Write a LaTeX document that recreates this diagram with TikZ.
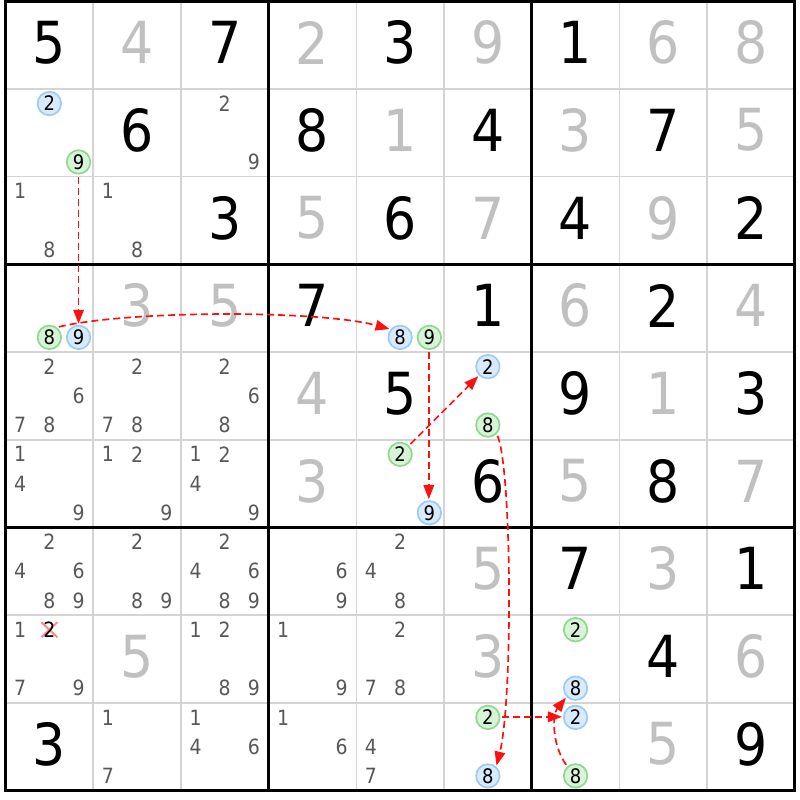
\documentclass[tikz,border=0pt]{standalone}
\usepackage{fontspec}
\setmainfont{DejaVu Sans}[FakeStretch=0.9]
\usetikzlibrary{arrows.meta}
\definecolor{solvedgray}{HTML}{C0C0C0}
\definecolor{candgray}{HTML}{585858}
\definecolor{gridgray}{HTML}{D4D4D4}
\definecolor{blueline}{HTML}{9CCBF5}
\definecolor{bluefill}{HTML}{D8EAFC}
\definecolor{greenline}{HTML}{8ED98E}
\definecolor{greenfill}{HTML}{D8F4D8}
\definecolor{linkred}{HTML}{FF1010}
\definecolor{xpink}{HTML}{FF8A8A}
\def\gx{5.5}
\def\gy{1.2}
\def\gs{87.7}
\newcommand\givn[4]{%
  \pgfmathsetmacro\ppx{\gx+(#3-0.5)*\gs}%
  \pgfmathsetmacro\ppy{\gy+(#2-0.5)*\gs-2.5}%
  \node[#1] (d#2#3) at (\ppx,\ppy) {#4};}
\newcommand\cnd[4]{%
  \pgfmathsetmacro\ppx{\gx+(#3-1)*\gs+(mod(#4-1,3)+0.5)*\gs/3}%
  \pgfmathsetmacro\ppy{\gy+(#2-1)*\gs+(floor((#4-1)/3)+0.5)*\gs/3}%
  \node[#1] (c#2#3#4) at (\ppx,\ppy) {#4};}
\newcommand\cnds[3]{\foreach \dd in {#3} {\cnd{cand}{#1}{#2}{\dd}}}
\begin{document}
\begin{tikzpicture}[x=1pt,y=-1pt,
  given/.style={inner sep=0pt,text=black,font=\fontsize{58}{58}\selectfont},
  solved/.style={inner sep=0pt,text=solvedgray,font=\fontsize{58}{58}\selectfont},
  cand/.style={inner sep=0pt,text=candgray,font=\fontsize{21}{21}\selectfont},
  candx/.style={inner sep=0pt,text=black,font=\fontsize{21}{21}\selectfont},
  cblue/.style={circle,inner sep=0pt,minimum size=23.5pt,line width=1.7pt,draw=blueline,fill=bluefill,text=black,font=\fontsize{20}{20}\selectfont},
  cgreen/.style={circle,inner sep=0pt,minimum size=23.5pt,line width=1.7pt,draw=greenline,fill=greenfill,text=black,font=\fontsize{20}{20}\selectfont},
  thingrid/.style={draw=gridgray,line width=1.6pt},
  thickgrid/.style={draw=black,line width=3pt},
  link/.style={draw=linkred,line width=1.7pt,dash pattern=on 7pt off 4pt,-{Triangle[length=14pt,width=10.5pt]},shorten <=2pt,shorten >=1pt},
  xmark/.style={draw=xpink,line width=2pt}]
\fill[white] (0,0) rectangle (800,800);
\useasboundingbox (0,0) rectangle (800,800);
% grid
\foreach \i in {1,2,4,5,7,8} {
  \draw[thingrid] ({\gx+\i*\gs},\gy) -- ({\gx+\i*\gs},{\gy+9*\gs});
  \draw[thingrid] (\gx,{\gy+\i*\gs}) -- ({\gx+9*\gs},{\gy+\i*\gs});
}
\foreach \i in {0,3,6,9} {
  \draw[thickgrid] ({\gx+\i*\gs},{\gy-1.5}) -- ({\gx+\i*\gs},{\gy+9*\gs+1.5});
  \draw[thickgrid] ({\gx-1.5},{\gy+\i*\gs}) -- ({\gx+9*\gs+1.5},{\gy+\i*\gs});
}
% row 1
\givn{given}{1}{1}{5}\givn{solved}{1}{2}{4}\givn{given}{1}{3}{7}
\givn{solved}{1}{4}{2}\givn{given}{1}{5}{3}\givn{solved}{1}{6}{9}
\givn{given}{1}{7}{1}\givn{solved}{1}{8}{6}\givn{solved}{1}{9}{8}
% row 2
\cnd{cblue}{2}{1}{2}\cnd{cgreen}{2}{1}{9}
\givn{given}{2}{2}{6}\cnds{2}{3}{2,9}
\givn{given}{2}{4}{8}\givn{solved}{2}{5}{1}\givn{given}{2}{6}{4}
\givn{solved}{2}{7}{3}\givn{given}{2}{8}{7}\givn{solved}{2}{9}{5}
% row 3
\cnds{3}{1}{1,8}\cnds{3}{2}{1,8}\givn{given}{3}{3}{3}
\givn{solved}{3}{4}{5}\givn{given}{3}{5}{6}\givn{solved}{3}{6}{7}
\givn{given}{3}{7}{4}\givn{solved}{3}{8}{9}\givn{given}{3}{9}{2}
% row 4
\cnd{cgreen}{4}{1}{8}\cnd{cblue}{4}{1}{9}
\givn{solved}{4}{2}{3}\givn{solved}{4}{3}{5}
\givn{given}{4}{4}{7}\cnd{cblue}{4}{5}{8}\cnd{cgreen}{4}{5}{9}\givn{given}{4}{6}{1}
\givn{solved}{4}{7}{6}\givn{given}{4}{8}{2}\givn{solved}{4}{9}{4}
% row 5
\cnds{5}{1}{2,6,7,8}\cnds{5}{2}{2,7,8}\cnds{5}{3}{2,6,8}
\givn{solved}{5}{4}{4}\givn{given}{5}{5}{5}\cnd{cblue}{5}{6}{2}\cnd{cgreen}{5}{6}{8}
\givn{given}{5}{7}{9}\givn{solved}{5}{8}{1}\givn{given}{5}{9}{3}
% row 6
\cnds{6}{1}{1,4,9}\cnds{6}{2}{1,2,9}\cnds{6}{3}{1,2,4,9}
\givn{solved}{6}{4}{3}\cnd{cgreen}{6}{5}{2}\cnd{cblue}{6}{5}{9}\givn{given}{6}{6}{6}
\givn{solved}{6}{7}{5}\givn{given}{6}{8}{8}\givn{solved}{6}{9}{7}
% row 7
\cnds{7}{1}{2,4,6,8,9}\cnds{7}{2}{2,8,9}\cnds{7}{3}{2,4,6,8,9}
\cnds{7}{4}{6,9}\cnds{7}{5}{2,4,8}\givn{solved}{7}{6}{5}
\givn{given}{7}{7}{7}\givn{solved}{7}{8}{3}\givn{given}{7}{9}{1}
% row 8
\cnds{8}{1}{1,7,9}
\draw[xmark] ({\gx+1.5*\gs/3-8},{\gy+7*\gs+0.5*\gs/3-7.5}) -- ({\gx+1.5*\gs/3+8},{\gy+7*\gs+0.5*\gs/3+7.5});
\draw[xmark] ({\gx+1.5*\gs/3-8},{\gy+7*\gs+0.5*\gs/3+7.5}) -- ({\gx+1.5*\gs/3+8},{\gy+7*\gs+0.5*\gs/3-7.5});
\cnd{candx}{8}{1}{2}
\givn{solved}{8}{2}{5}\cnds{8}{3}{1,2,8,9}
\cnds{8}{4}{1,9}\cnds{8}{5}{2,7,8}\givn{solved}{8}{6}{3}
\cnd{cgreen}{8}{7}{2}\cnd{cblue}{8}{7}{8}\givn{given}{8}{8}{4}\givn{solved}{8}{9}{6}
% row 9
\givn{given}{9}{1}{3}\cnds{9}{2}{1,7}\cnds{9}{3}{1,4,6}
\cnds{9}{4}{1,6}\cnds{9}{5}{4,7}\cnd{cgreen}{9}{6}{2}\cnd{cblue}{9}{6}{8}
\cnd{cblue}{9}{7}{2}\cnd{cgreen}{9}{7}{8}\givn{solved}{9}{8}{5}\givn{given}{9}{9}{9}
% links
\draw[link] (c219) -- (c419);
\draw[link] (c418.53) .. controls (130,310) and (320,310) .. (c458.140);
\draw[link] ([xshift=-0.6pt]c459.south) -- ([xshift=-0.6pt]c659.north);
\draw[link] (c652) -- (c562);
\draw[link] (c568.-45) .. controls (512,470) and (513,700) .. (c968.48);
\draw[link] ([yshift=0.6pt]c962.east) -- ([yshift=0.6pt]c972.west);
\draw[link] (c978.131) .. controls (552,745) and (552,715) .. (c878.224);
\end{tikzpicture}
\end{document}
